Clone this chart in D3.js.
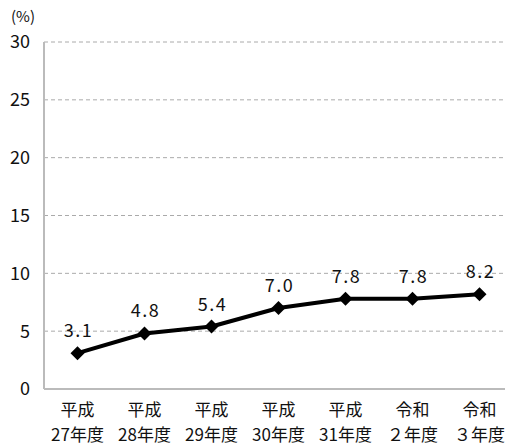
<!DOCTYPE html>
<html><head><meta charset="utf-8">
<script src="https://cdn.jsdelivr.net/npm/d3@7"></script>
<style>body{margin:0;background:#fff}text{font-family:"Noto Sans CJK JP",sans-serif;fill:#111}</style>
</head><body><svg id="c" width="505" height="447"></svg>
<script>
const line1 = ["平成","平成","平成","平成","平成","令和","令和"];
const line2 = ["27年度","28年度","29年度","30年度","31年度","２年度","３年度"];
const values = [3.1, 4.8, 5.4, 7.0, 7.8, 7.8, 8.2];
const labels = ["3.1","4.8","5.4","7.0","7.8","7.8","8.2"];
const yTicks = [0,5,10,15,20,25,30];

const svg = d3.select("#c");
const L = 44, R = 513, T = 42, B = 389;
const x = d3.scaleBand().domain(d3.range(values.length)).range([L, R]);
const y = d3.scaleLinear().domain([0,30]).range([B, T]);
const cx = i => x(i) + x.bandwidth()/2;

// grid
svg.append("g").selectAll("line").data(yTicks.filter(d=>d>0)).join("line")
  .attr("x1", L).attr("x2", 505).attr("y1", d=>y(d)).attr("y2", d=>y(d))
  .attr("stroke", "#aaa").attr("stroke-width", 1).attr("stroke-dasharray", "4,3");

// axes lines
svg.append("line").attr("x1", L).attr("x2", L).attr("y1", T).attr("y2", B).attr("stroke", "#bbb").attr("stroke-width", 2);
svg.append("line").attr("x1", L).attr("x2", 505).attr("y1", B).attr("y2", B).attr("stroke", "#bbb").attr("stroke-width", 2);

// y labels
svg.append("g").selectAll("text").data(yTicks).join("text")
  .attr("x", 30).attr("y", d=>y(d)).attr("dy", "0.36em").attr("text-anchor", "end")
  .attr("font-size", 18).text(d=>d);
svg.append("text").attr("x", 11).attr("y", 22).attr("font-size", 15).text("(%)");

// x labels
const xl = svg.append("g").selectAll("g").data(values).join("g");
xl.append("text").attr("x", (d,i)=>cx(i)).attr("y", 416).attr("text-anchor","middle").attr("font-size", 17).text((d,i)=>line1[i]);
xl.append("text").attr("x", (d,i)=>cx(i)).attr("y", 441).attr("text-anchor","middle").attr("font-size", 17).text((d,i)=>line2[i]);

// line
svg.append("path").datum(values)
  .attr("d", d3.line().x((d,i)=>cx(i)).y(d=>y(d)))
  .attr("fill","none").attr("stroke","#000").attr("stroke-width",4).attr("stroke-linejoin","round");

// markers
svg.append("g").selectAll("path").data(values).join("path")
  .attr("transform", (d,i)=>`translate(${cx(i)},${y(d)})`)
  .attr("d", "M0,-7L7,0L0,7L-7,0Z").attr("fill","#000");

// value labels
svg.append("g").selectAll("text").data(values).join("text")
  .attr("x", (d,i)=>cx(i)+1).attr("y", d=>y(d)-16).attr("text-anchor","middle")
  .attr("font-size", 18).attr("letter-spacing", "1.5px").text((d,i)=>labels[i]);
</script></body></html>
